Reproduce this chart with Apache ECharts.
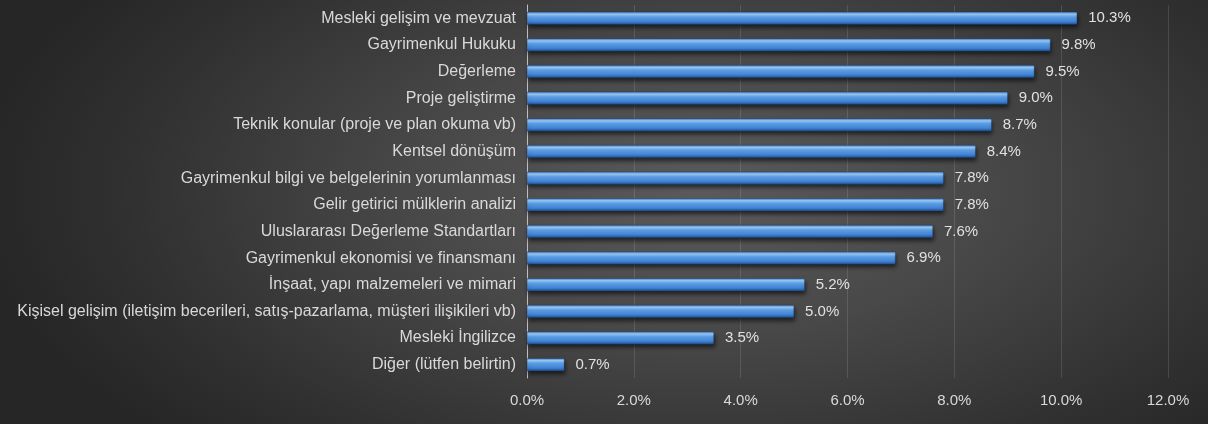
<!DOCTYPE html>
<html>
<head>
<meta charset="utf-8">
<script src="https://cdn.jsdelivr.net/npm/echarts@6/dist/echarts.min.js"></script>
<style>
html,body{margin:0;padding:0;}
#c{width:1208px;height:424px;background:radial-gradient(ellipse 60% 85% at 58% 45%, #5a5a5a 0%, #484848 40%, #303030 80%, #262626 100%);}
</style>
</head>
<body>
<div id="c"></div>
<script>
const categories = [
  "Mesleki gelişim ve mevzuat",
  "Gayrimenkul Hukuku",
  "Değerleme",
  "Proje geliştirme",
  "Teknik konular (proje ve plan okuma vb)",
  "Kentsel dönüşüm",
  "Gayrimenkul bilgi ve belgelerinin yorumlanması",
  "Gelir getirici mülklerin analizi",
  "Uluslararası Değerleme Standartları",
  "Gayrimenkul ekonomisi ve finansmanı",
  "İnşaat, yapı malzemeleri ve mimari",
  "Kişisel gelişim (iletişim becerileri, satış-pazarlama, müşteri ilişikileri vb)",
  "Mesleki İngilizce",
  "Diğer (lütfen belirtin)"
];
const values = [10.3, 9.8, 9.5, 9.0, 8.7, 8.4, 7.8, 7.8, 7.6, 6.9, 5.2, 5.0, 3.5, 0.7];
const xTicks = [0, 2, 4, 6, 8, 10, 12];

const chart = echarts.init(document.getElementById('c'), null, {renderer:'canvas'});
const font = '"Liberation Sans", Arial, sans-serif';
chart.setOption({
  backgroundColor: 'transparent',
  animation: false,
  grid: {left: 527, right: 40, top: 5, bottom: 46, containLabel: false},
  xAxis: {
    type: 'value', min: xTicks[0], max: xTicks[xTicks.length-1], interval: 2,
    axisLine: {show: false}, axisTick: {show: false},
    splitLine: {show: true, lineStyle: {color: 'rgba(255,255,255,0.12)', width: 1}},
    axisLabel: {color: '#d9d9d9', fontSize: 15, fontFamily: font, margin: 15,
      formatter: v => v.toFixed(1) + '%'}
  },
  yAxis: {
    type: 'category', data: categories, inverse: true,
    axisLine: {show: true, lineStyle: {color: '#bfbfbf', width: 1}},
    axisTick: {show: false},
    axisLabel: {color: '#d9d9d9', fontSize: 16, fontFamily: font, margin: 11}
  },
  series: [{
    type: 'bar', data: values, barWidth: 13,
    itemStyle: {
      color: {type: 'linear', x: 0, y: 0, x2: 0, y2: 1, colorStops: [
        {offset: 0, color: '#3a78c4'},
        {offset: 0.18, color: '#9ccbf7'},
        {offset: 0.4, color: '#5d9fe8'},
        {offset: 0.75, color: '#3f82d3'},
        {offset: 1, color: '#1f4a86'}
      ]},
      borderColor: 'rgba(20,50,100,0.6)', borderWidth: 0.5,
      shadowColor: 'rgba(0,0,0,0.6)', shadowBlur: 4, shadowOffsetX: 1, shadowOffsetY: 3
    },
    label: {show: true, position: 'right', distance: 11, color: '#e0e0e0', fontSize: 15, fontFamily: font,
      formatter: p => p.value.toFixed(1) + '%'}
  }]
});
</script>
</body>
</html>
